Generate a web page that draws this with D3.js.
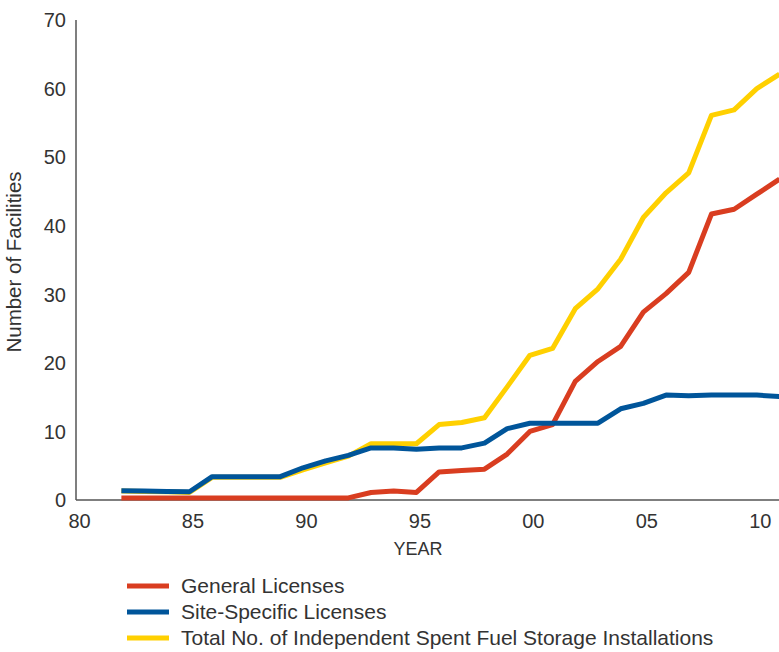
<!DOCTYPE html>
<html>
<head>
<meta charset="utf-8">
<script src="https://cdn.jsdelivr.net/npm/d3@7"></script>
<style>
  html, body { margin: 0; padding: 0; background: #fff; }
  svg { display: block; font-family: "Liberation Sans", Arial, sans-serif; }
</style>
</head>
<body>
<svg id="chart" width="779" height="652"></svg>
<script>
const years = d3.range(1982, 2012);
const generalLicenses = [0.3,0.3,0.3,0.3,0.3,0.3,0.3,0.3,0.3,0.3,0.3,1.1,1.3,1.1,4.1,4.3,4.5,6.7,10.0,11.0,17.3,20.2,22.4,27.4,30.1,33.2,41.7,42.4,44.6,46.8];
const siteSpecific = [1.35,1.3,1.25,1.2,3.4,3.4,3.4,3.4,4.7,5.7,6.5,7.6,7.6,7.4,7.6,7.6,8.3,10.4,11.2,11.2,11.2,11.2,13.3,14.1,15.3,15.2,15.3,15.3,15.3,15.1];
const totalISFSI = [1.3,1.25,1.2,1.1,3.3,3.3,3.3,3.3,4.4,5.4,6.4,8.2,8.2,8.2,11.0,11.3,12.0,16.5,21.1,22.1,27.9,30.8,35.1,41.2,44.8,47.7,56.1,56.9,60.0,62.1];
const xTickYears = [1980, 1985, 1990, 1995, 2000, 2005, 2010];
const xTickLabels = ["80", "85", "90", "95", "00", "05", "10"];
const yTicks = [0, 10, 20, 30, 40, 50, 60, 70];
const seriesNames = ["General Licenses", "Site-Specific Licenses", "Total No. of Independent Spent Fuel Storage Installations"];
const seriesColors = ["#d93d20", "#00559a", "#ffd000"];

const svg = d3.select("#chart");
const x = d3.scaleLinear().domain([1980, 2011]).range([76, 779.5]);
const y = d3.scaleLinear().domain([0, 70]).range([500, 20]);
const axisColor = "#555";
const textColor = "#333";

// axes lines
svg.append("line").attr("x1", x(1980)).attr("x2", 779).attr("y1", y(0)).attr("y2", y(0))
  .attr("stroke", axisColor).attr("stroke-width", 1.5);
svg.append("line").attr("x1", x(1980)).attr("x2", x(1980)).attr("y1", y(0)).attr("y2", y(70))
  .attr("stroke", axisColor).attr("stroke-width", 1.5);

// y tick labels
const yAxis = d3.axisLeft(y).tickValues(yTicks).tickSize(0).tickPadding(10);
const gy = svg.append("g").attr("transform", `translate(${x(1980)},0)`).call(yAxis);
gy.select(".domain").remove();
gy.selectAll("text").attr("font-size", 20).attr("fill", textColor)
  .attr("font-family", "Liberation Sans, Arial, sans-serif").attr("dy", "0.34em");

// x tick labels
const xAxis = d3.axisBottom(x).tickValues(xTickYears).tickSize(0).tickPadding(14)
  .tickFormat((d, i) => xTickLabels[i]);
const gx = svg.append("g").attr("transform", `translate(0,${y(0)})`).call(xAxis);
gx.select(".domain").remove();
gx.selectAll("text").attr("font-size", 20).attr("fill", textColor)
  .attr("font-family", "Liberation Sans, Arial, sans-serif").attr("dx", 3);

// axis titles
svg.append("text").attr("x", 418).attr("y", 555).attr("text-anchor", "middle")
  .attr("font-size", 18).attr("fill", textColor).text("YEAR");
svg.append("text").attr("transform", "translate(21,262) rotate(-90)").attr("text-anchor", "middle")
  .attr("font-size", 20.5).attr("fill", textColor).text("Number of Facilities");

// lines
const line = d3.line().x((d, i) => x(years[i])).y(d => y(d));
const drawOrder = [[totalISFSI, 2], [generalLicenses, 0], [siteSpecific, 1]];
drawOrder.forEach(([vals, ci]) => {
  svg.append("path").datum(vals).attr("d", line).attr("fill", "none")
    .attr("stroke", seriesColors[ci]).attr("stroke-width", 5)
    .attr("stroke-linejoin", "round");
});

// legend
const legendY = [586, 612, 638];
seriesNames.forEach((name, i) => {
  svg.append("line").attr("x1", 127).attr("x2", 169).attr("y1", legendY[i]).attr("y2", legendY[i])
    .attr("stroke", seriesColors[i]).attr("stroke-width", 5);
  svg.append("text").attr("x", 181).attr("y", legendY[i]).attr("dy", "0.35em")
    .attr("font-size", 21).attr("fill", textColor).text(name);
});
</script>
</body>
</html>
